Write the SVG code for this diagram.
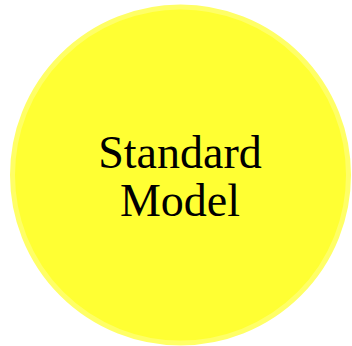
<svg xmlns="http://www.w3.org/2000/svg" width="352" height="346" viewBox="0 0 352 346">
<style>
.lbl{font-family:"Liberation Serif","Times New Roman",serif;font-size:46px;fill:#000;text-anchor:middle}
</style>
<rect width="352" height="346" fill="#fff"/>
<g id="standard-model">
<circle cx="180.5" cy="175" r="168" fill="#ffff33" stroke="#ffff66" stroke-width="5"/>
<text class="lbl" x="180" y="168">Standard</text>
<text class="lbl" x="180" y="216">Model</text>
</g>
<g id="connectors"/>
</svg>
